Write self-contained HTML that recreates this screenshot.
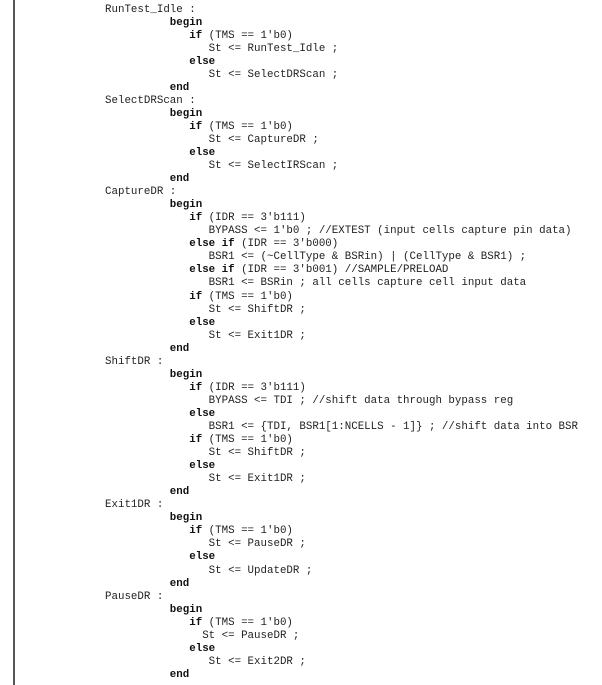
<!DOCTYPE html>
<html><head><meta charset="utf-8"><style>
html,body{margin:0;padding:0;background:#fff;width:602px;height:685px;overflow:hidden;position:relative}
.bar{position:absolute;left:13px;top:0;width:1.5px;height:685px;background:#555}
pre{position:absolute;left:105px;top:3.5px;margin:0;font-family:"Liberation Mono",monospace;font-size:10.8px;line-height:13.04px;color:#222}
b{font-weight:bold;color:#111}
</style></head><body>
<div class="bar"></div>
<pre>RunTest_Idle :
          <b>begin</b>
             <b>if</b> (TMS == 1'b0)
                St &lt;= RunTest_Idle ;
             <b>else</b>
                St &lt;= SelectDRScan ;
          <b>end</b>
SelectDRScan :
          <b>begin</b>
             <b>if</b> (TMS == 1'b0)
                St &lt;= CaptureDR ;
             <b>else</b>
                St &lt;= SelectIRScan ;
          <b>end</b>
CaptureDR :
          <b>begin</b>
             <b>if</b> (IDR == 3'b111)
                BYPASS &lt;= 1'b0 ; //EXTEST (input cells capture pin data)
             <b>else if</b> (IDR == 3'b000)
                BSR1 &lt;= (~CellType &amp; BSRin) | (CellType &amp; BSR1) ;
             <b>else if</b> (IDR == 3'b001) //SAMPLE/PRELOAD
                BSR1 &lt;= BSRin ; all cells capture cell input data
             <b>if</b> (TMS == 1'b0)
                St &lt;= ShiftDR ;
             <b>else</b>
                St &lt;= Exit1DR ;
          <b>end</b>
ShiftDR :
          <b>begin</b>
             <b>if</b> (IDR == 3'b111)
                BYPASS &lt;= TDI ; //shift data through bypass reg
             <b>else</b>
                BSR1 &lt;= {TDI, BSR1[1:NCELLS - 1]} ; //shift data into BSR
             <b>if</b> (TMS == 1'b0)
                St &lt;= ShiftDR ;
             <b>else</b>
                St &lt;= Exit1DR ;
          <b>end</b>
Exit1DR :
          <b>begin</b>
             <b>if</b> (TMS == 1'b0)
                St &lt;= PauseDR ;
             <b>else</b>
                St &lt;= UpdateDR ;
          <b>end</b>
PauseDR :
          <b>begin</b>
             <b>if</b> (TMS == 1'b0)
               St &lt;= PauseDR ;
             <b>else</b>
                St &lt;= Exit2DR ;
          <b>end</b></pre>
</body></html>
